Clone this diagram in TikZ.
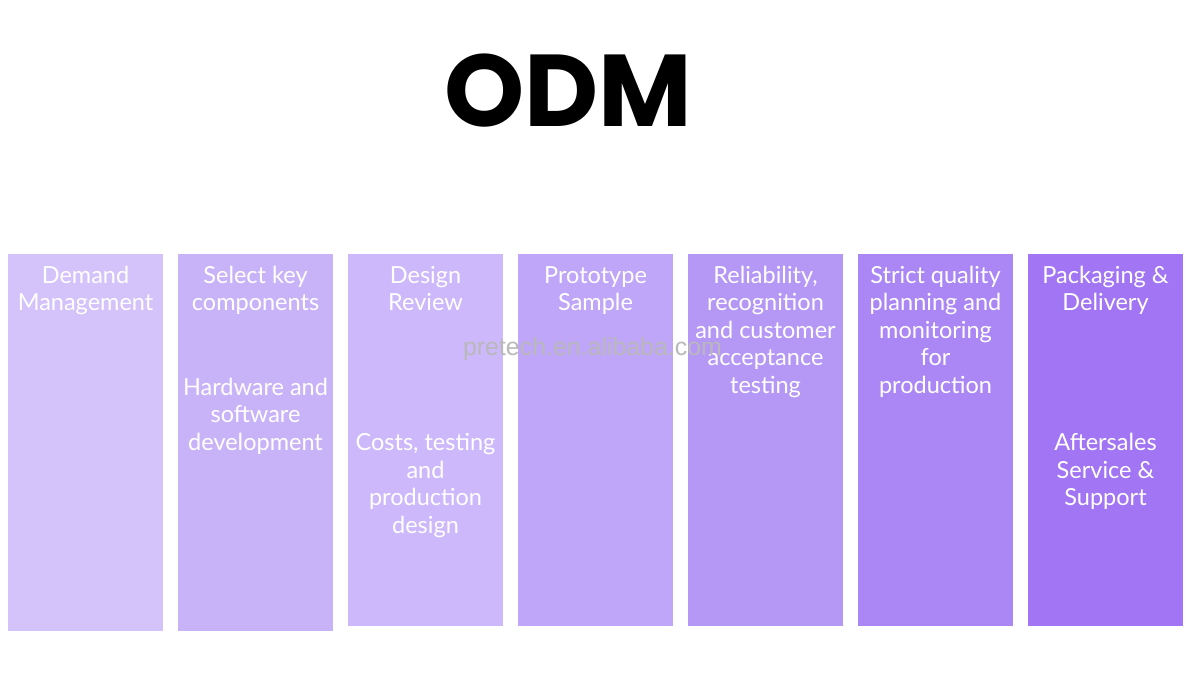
\documentclass[tikz,border=0pt]{standalone}
\usepackage{fontspec}
\setmainfont{Lato}
\newfontfamily\titlefont{Poppins}
\newfontfamily\markfont{Liberation Sans}
\usetikzlibrary{positioning}

\definecolor{stepA}{RGB}{212,194,250}
\definecolor{stepB}{RGB}{200,179,248}
\definecolor{stepC}{RGB}{204,184,250}
\definecolor{stepD}{RGB}{191,166,248}
\definecolor{stepE}{RGB}{181,151,246}
\definecolor{stepF}{RGB}{171,134,245}
\definecolor{stepG}{RGB}{162,117,244}

\begin{document}
\begin{tikzpicture}[x=1pt, y=-1pt,
    column/.style={rectangle, inner sep=0pt, outer sep=0pt, minimum width=155pt, anchor=north west},
    coltext/.style={inner sep=0pt, align=center, text=white,
        font=\fontsize{23.5}{27.6}\selectfont}
]
\useasboundingbox (0,0) rectangle (1186,695);

% Title
\node[anchor=base, font=\titlefont\bfseries\fontsize{102}{106}\selectfont] (title) at (568,127) {ODM};

% Columns
\node[column, fill=stepA, minimum height=377pt] (col1) at (8,254) {};
\node[column, fill=stepB, minimum height=377pt, right=15pt of col1.north east, anchor=north west] (col2) {};
\node[column, fill=stepC, minimum height=372pt, right=15pt of col2.north east, anchor=north west] (col3) {};
\node[column, fill=stepD, minimum height=372pt, right=15pt of col3.north east, anchor=north west] (col4) {};
\node[column, fill=stepE, minimum height=372pt, right=15pt of col4.north east, anchor=north west] (col5) {};
\node[column, fill=stepF, minimum height=372pt, right=15pt of col5.north east, anchor=north west] (col6) {};
\node[column, fill=stepG, minimum height=372pt, right=15pt of col6.north east, anchor=north west] (col7) {};

% Column labels
\node[coltext, below=9.6pt of col1.north] (t1) {\strut Demand\\Management};
\node[coltext, below=9.6pt of col2.north] (t2) {\strut Select key\\components};
\node[coltext, below=121.6pt of col2.north] (t2b) {\strut Hardware and\\software\\development};
\node[coltext, below=9.6pt of col3.north] (t3) {\strut Design\\Review};
\node[coltext, below=177pt of col3.north] (t3b) {\strut Costs, testing\\and\\production\\design};
\node[coltext, below=9.6pt of col4.north] (t4) {\strut Prototype\\Sample};
\node[coltext, below=9.6pt of col5.north] (t5) {\strut Reliability,\\recognition\\and customer\\acceptance\\testing};
\node[coltext, below=9.6pt of col6.north] (t6) {\strut Strict quality\\planning and\\monitoring\\for\\production};
\node[coltext, below=9.6pt of col7.north] (t7) {\strut Packaging \&\\Delivery};
\node[coltext, below=177pt of col7.north] (t7b) {\strut Aftersales\\Service \&\\Support};

% Watermark
\node[anchor=base, inner sep=0pt, text=gray!55, font=\markfont\fontsize{24.9}{28}\selectfont] (mark) at (592.5,355) {pretech.en.alibaba.com};

\end{tikzpicture}
\end{document}
